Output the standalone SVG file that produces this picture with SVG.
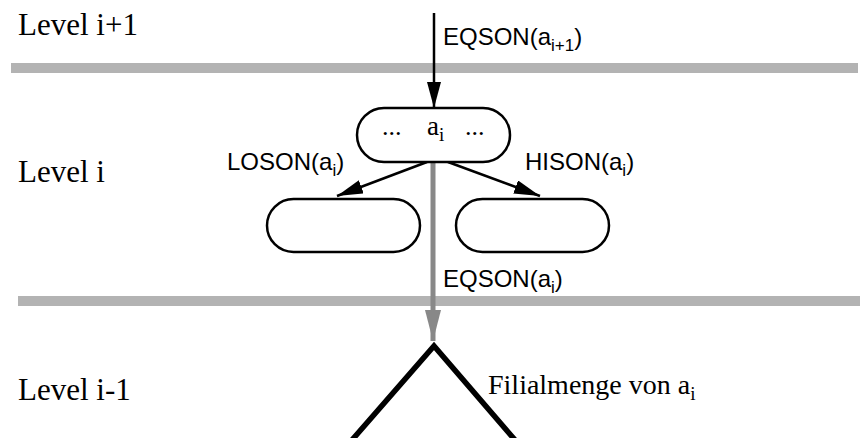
<svg xmlns="http://www.w3.org/2000/svg" width="860" height="438" viewBox="0 0 860 438">
<style>
.serif{font-family:"Liberation Serif","Times New Roman",serif;fill:#000}
.sans{font-family:"Liberation Sans",Arial,sans-serif;fill:#000;font-size:24px}
.lvl{font-size:31px}
.node{fill:#fff;stroke:#000;stroke-width:2.5}
.bar{fill:#b3b3b3}
.blk{stroke:#000;stroke-width:2.5;fill:none}
.gry{stroke:#888;stroke-width:5;fill:none}
</style>
<defs>
<marker id="ah" markerUnits="userSpaceOnUse" markerWidth="26" markerHeight="14" refX="26" refY="7" orient="auto">
<path d="M0,0 L26,7 L0,14 z" fill="#000"/>
</marker>
<marker id="ahg" markerUnits="userSpaceOnUse" markerWidth="31" markerHeight="16" refX="31" refY="8" orient="auto">
<path d="M0,0 L31,8 L0,16 z" fill="#888"/>
</marker>
</defs>
<rect class="bar" x="11" y="63" width="847" height="10"/>
<rect class="bar" x="18" y="296" width="842" height="10"/>
<g id="levels">
<text class="serif lvl" x="18" y="35">Level i+1</text>
<text class="serif lvl" x="18" y="182">Level i</text>
<text class="serif lvl" x="18" y="400">Level i-1</text>
</g>
<g id="connectors">
<line class="blk" x1="434" y1="13" x2="434" y2="108" marker-end="url(#ah)"/>
<line class="blk" x1="427" y1="162" x2="337" y2="196" marker-end="url(#ah)"/>
<line class="blk" x1="448" y1="162" x2="540" y2="196" marker-end="url(#ah)"/>
<line class="gry" x1="433" y1="163" x2="433" y2="341" marker-end="url(#ahg)"/>
<text class="sans" x="443" y="45">EQSON(a<tspan font-size="17" dy="6">i+1</tspan><tspan dy="-6">)</tspan></text>
<text class="sans" x="227" y="170">LOSON(a<tspan font-size="17" dy="6">i</tspan><tspan dy="-6">)</tspan></text>
<text class="sans" x="525" y="170">HISON(a<tspan font-size="17" dy="6">i</tspan><tspan dy="-6">)</tspan></text>
<text class="sans" x="443" y="287">EQSON(a<tspan font-size="17" dy="6">i</tspan><tspan dy="-6">)</tspan></text>
</g>
<g id="node-ai">
<rect class="node" x="357" y="108" width="153" height="54" rx="27" ry="27"/>
<text class="serif" font-size="26" x="382" y="135">...</text>
<text class="serif" font-size="27" x="427" y="135">a<tspan font-size="19" dy="6">i</tspan></text>
<text class="serif" font-size="26" x="465" y="135">...</text>
</g>
<g id="node-loson">
<rect class="node" x="267" y="199" width="153" height="53" rx="26.5" ry="26.5"/>
</g>
<g id="node-hison">
<rect class="node" x="456" y="199" width="153" height="53" rx="26.5" ry="26.5"/>
</g>
<g id="filialmenge">
<polyline points="352,440 434,346 515,440" fill="none" stroke="#000" stroke-width="5.5"/>
<text class="serif" font-size="28" x="488" y="394">Filialmenge von a<tspan font-size="19" dy="6">i</tspan></text>
</g>
</svg>
